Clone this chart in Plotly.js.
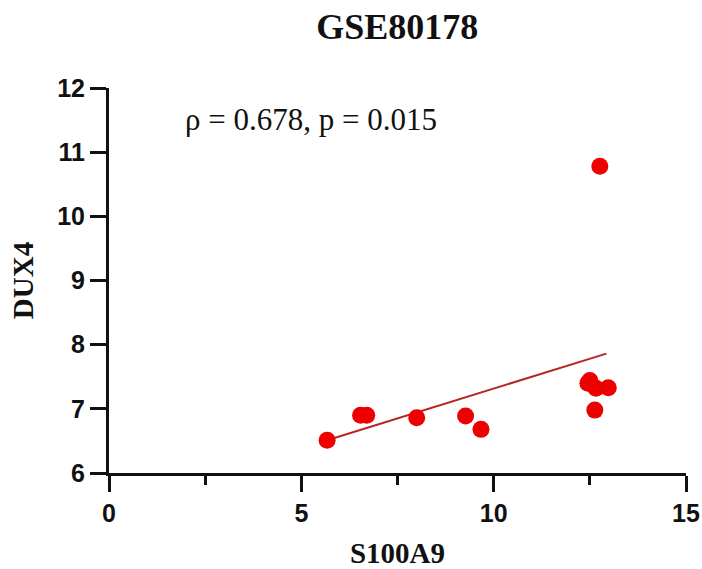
<!DOCTYPE html>
<html>
<head>
<meta charset="utf-8">
<script src="https://cdn.plot.ly/plotly-3.0.1.min.js"></script>
<style>html,body{margin:0;padding:0;background:#fff;}#chart{width:702px;height:569px;}</style>
</head>
<body>
<div id="chart"></div>
<script>
// Data
const s100a9 = [5.67, 6.54, 6.70, 8.00, 9.27, 9.67, 12.45, 12.50, 12.66, 12.98, 12.63, 12.76];
const dux4   = [6.51, 6.90, 6.90, 6.86, 6.89, 6.68, 7.40, 7.44, 7.32, 7.33, 6.98, 10.78];
const fitX = [5.67, 12.93];
const fitY = [6.51, 7.86];
const xTicks = [0, 5, 10, 15];
const yTicks = [6, 7, 8, 9, 10, 11, 12];
const titleText = 'GSE80178';
const xTitle = 'S100A9';
const yTitle = 'DUX4';
const statText = 'ρ = 0.678, p = 0.015';

const traces = [
  {x: fitX, y: fitY, mode: 'lines', type: 'scatter',
   line: {color: '#b72525', width: 2}, hoverinfo: 'skip', showlegend: false},
  {x: s100a9, y: dux4, mode: 'markers', type: 'scatter',
   marker: {color: '#ee0000', size: 17, line: {width: 0}}, showlegend: false}
];

const layout = {
  width: 702, height: 569,
  margin: {l: 109, r: 16, t: 88, b: 96},
  paper_bgcolor: '#fff', plot_bgcolor: '#fff',
  showlegend: false,
  title: {text: '<b>' + titleText + '</b>', font: {family: 'Liberation Serif', size: 36, color: '#111'},
          x: 0.566, xanchor: 'center', y: 0.953, yanchor: 'middle', yref: 'container'},
  xaxis: {
    range: [0, 15], tickvals: xTicks, ticktext: xTicks.map(String),
    showgrid: false, zeroline: false, showline: true, linecolor: '#111', linewidth: 3,
    ticks: 'outside', ticklen: 16, tickwidth: 3, tickcolor: '#111',
    minor: {dtick: 2.5, tick0: 0, ticks: 'outside', ticklen: 9, tickwidth: 3, tickcolor: '#111', showgrid: false},
    tickfont: {family: 'Liberation Sans', size: 25, color: '#111', weight: 'bold'},
    title: {text: '<b>' + xTitle + '</b>', font: {family: 'Liberation Serif', size: 29, color: '#111'}, standoff: 19}
  },
  yaxis: {
    range: [6, 12], tickvals: yTicks, ticktext: yTicks.map(String),
    showgrid: false, zeroline: false, showline: true, linecolor: '#111', linewidth: 3,
    ticks: 'outside', ticklen: 16, tickwidth: 3, tickcolor: '#111',
    tickfont: {family: 'Liberation Sans', size: 25, color: '#111', weight: 'bold'},
    title: {text: '<b>' + yTitle + '</b>', font: {family: 'Liberation Serif', size: 29, color: '#111'}, standoff: 16}
  },
  annotations: [
    {text: statText, xref: 'paper', yref: 'paper', x: 0.350, y: 0.919,
     xanchor: 'center', yanchor: 'middle', showarrow: false,
     font: {family: 'Liberation Serif', size: 31, color: '#111'}}
  ]
};

Plotly.newPlot('chart', traces, layout, {displayModeBar: false, staticPlot: true});
</script>
</body>
</html>
